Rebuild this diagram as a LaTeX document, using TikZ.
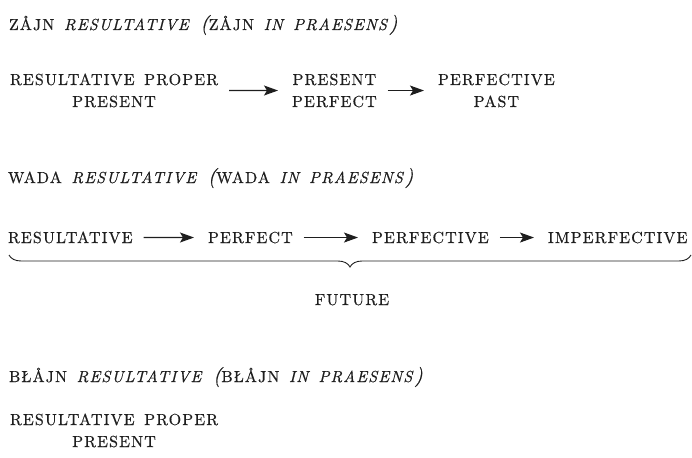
\documentclass[tikz,border=0pt]{standalone}
\usepackage{fontspec}
\usetikzlibrary{arrows.meta,decorations.pathreplacing}
\newfontfamily\gfont{lmroman10}[Extension=.otf, UprightFont=*-regular, ItalicFont=*-italic, LetterSpace=7, WordSpace=1.5, FakeBold=0.5]
\definecolor{ink}{HTML}{1E1E1E}
\newcommand{\lp}{{\fontsize{20}{22}\selectfont\itshape(}}
\newcommand{\rp}{{\fontsize{20}{22}\selectfont\itshape)}}
\tikzset{
  lbl/.style={inner sep=0pt, outer sep=0pt, text=ink, align=center,
    font=\gfont\fontsize{16}{22}\selectfont},
  arr/.style={draw=ink, line width=1.1pt, -{Stealth[length=14pt,width=10pt,inset=3pt]},
    shorten <=11pt, shorten >=14pt},
  bracestyle/.style={draw=ink, line width=0.9pt,
    decorate, decoration={brace, mirror, amplitude=12pt}}
}
\begin{document}
\begin{tikzpicture}[x=1pt,y=1pt]
\useasboundingbox (0,0) rectangle (692,-457);
% section 1 (multi-line nodes: base anchor = baseline of last line)
\node[lbl, anchor=base west] (h1) at (9,-30) {ZÅJN \textit{RESULTATIVE} \lp ZÅJN \textit{IN PRAESENS}\rp};
\node[lbl, anchor=base west] (r1a) at (10,-107) {RESULTATIVE PROPER\\PRESENT};
\node[lbl, anchor=base west] (r1b) at (292,-107) {PRESENT\\PERFECT};
\node[lbl, anchor=base west] (r1c) at (438,-107) {PERFECTIVE\\PAST};
\draw[arr] (r1a.east) -- (r1b.west);
\draw[arr] (r1b.east) -- (r1c.west);
% section 2
\node[lbl, anchor=base west] (h2) at (8,-183) {WADA \textit{RESULTATIVE} \lp WADA \textit{IN PRAESENS}\rp};
\node[lbl, anchor=base west] (r2a) at (8,-243) {RESULTATIVE};
\node[lbl, anchor=base west] (r2b) at (208,-243) {PERFECT};
\node[lbl, anchor=base west] (r2c) at (372,-243) {PERFECTIVE};
\node[lbl, anchor=base west] (r2d) at (548,-243) {IMPERFECTIVE};
\draw[arr] (r2a.east) -- (r2b.west);
\draw[arr] (r2b.east) -- (r2c.west);
\draw[arr] (r2c.east) -- (r2d.west);
\coordinate (bl) at (9,-255);
\coordinate (br) at (691,-255);
\draw[bracestyle] (bl) -- (br);
\node[lbl, anchor=base] (fut) at (352,-305) {FUTURE};
% section 3
\node[lbl, anchor=base west] (h3) at (9,-382) {BŁÅJN \textit{RESULTATIVE} \lp BŁÅJN \textit{IN PRAESENS}\rp};
\node[lbl, anchor=base west] (r3a) at (10,-447) {RESULTATIVE PROPER\\PRESENT};
\end{tikzpicture}
\end{document}
